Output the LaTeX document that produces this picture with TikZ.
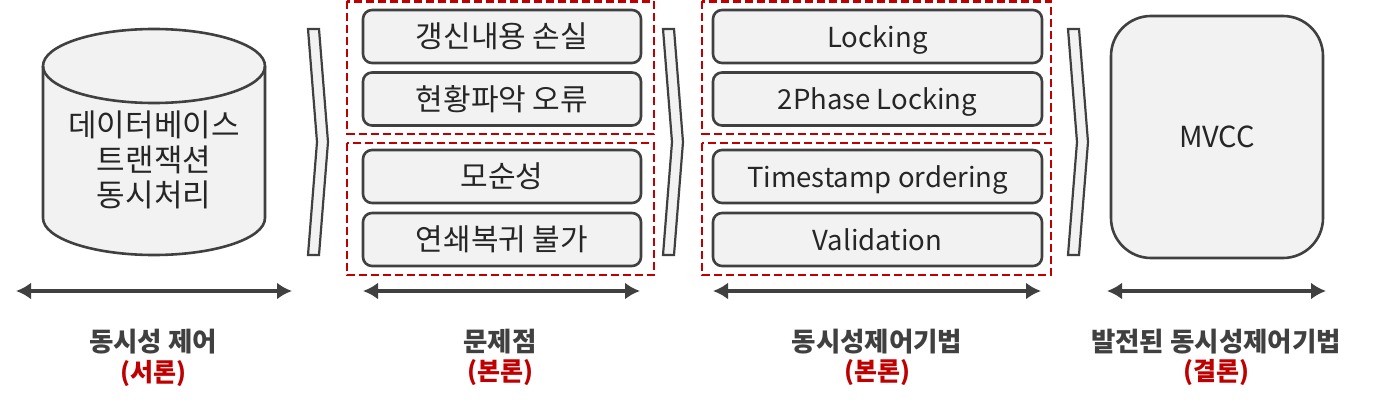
\documentclass[tikz,border=0pt]{standalone}
\usepackage{fontspec}
\setmainfont{Noto Sans CJK KR}
\usetikzlibrary{arrows.meta}
\definecolor{dk}{HTML}{404040}
\definecolor{fl}{HTML}{F2F2F2}
\definecolor{rd}{HTML}{C00000}
\tikzset{
  rbox/.style={draw=dk, fill=fl, line width=2.6pt, rounded corners=9pt, inner sep=0pt, font=\fontsize{30}{34}\selectfont, text=black!85},
  lat/.style={font=\fontsize{27.5}{32}\selectfont, text height=24pt, text depth=2pt},
  grp/.style={draw=rd, line width=2.6pt, dash pattern=on 8pt off 4pt},
  chev/.style={draw=dk, fill=fl, line width=2.2pt, line join=miter},
  span/.style={draw=dk, line width=4pt, {Latex[length=15pt,width=17pt]}-{Latex[length=15pt,width=17pt]}},
  ttl/.style={font=\fontsize{26.5}{30}\selectfont\bfseries, text=dk},
  sub/.style={font=\fontsize{25}{30}\selectfont\bfseries, text=rd},
}
\begin{document}
\begin{tikzpicture}[x=1pt,y=-1pt]
\useasboundingbox (0,0) rectangle (1378,401);
% cylinder
\draw[draw=dk, fill=fl, line width=2.6pt] (43,66) -- (43,218) arc[start angle=180, end angle=0, x radius=111, y radius=37] -- (265,66) arc[start angle=0, end angle=-180, x radius=111, y radius=37] -- cycle;
\draw[draw=dk, line width=2.6pt] (43,66) arc[start angle=180, end angle=0, x radius=111, y radius=37];
\node[font=\fontsize{31}{35}\selectfont, text=black!85, align=center] (db) at (154,160) {데이터베이스\\트랜잭션\\동시처리};
% chevrons
\draw[chev] (308,29) -- (319,29) -- (328,142) -- (319,255) -- (308,255) -- (317,142) -- cycle;
\draw[chev] (663,29) -- (674,29) -- (683,142) -- (674,255) -- (663,255) -- (672,142) -- cycle;
\draw[chev] (1068,29) -- (1079,29) -- (1088,142) -- (1079,255) -- (1068,255) -- (1077,142) -- cycle;
% group 2
\draw[grp] (347,1.5) rectangle (654,134);
\draw[grp] (347,143) rectangle (654,275);
\node[rbox, minimum width=278pt, minimum height=53pt] (p1) at (502,36.5) {갱신내용 손실};
\node[rbox, minimum width=278pt, minimum height=53pt] (p2) at (502,99) {현황파악 오류};
\node[rbox, minimum width=278pt, minimum height=53pt] (p3) at (502,176.5) {모순성};
\node[rbox, minimum width=278pt, minimum height=53pt] (p4) at (502,239.5) {연쇄복귀 불가};
% group 3
\draw[grp] (702,1.5) rectangle (1051,134);
\draw[grp] (702,143) rectangle (1051,275);
\node[rbox, lat, minimum width=329pt, minimum height=53pt] (m1) at (877.5,36.5) {Locking};
\node[rbox, lat, minimum width=329pt, minimum height=53pt] (m2) at (877.5,99) {2Phase Locking};
\node[rbox, lat, minimum width=329pt, minimum height=53pt] (m3) at (877.5,176.5) {Timestamp ordering};
\node[rbox, lat, minimum width=329pt, minimum height=53pt] (m4) at (877.5,239.5) {Validation};
% MVCC
\node[rbox, font=\fontsize{29}{34}\selectfont, text height=23pt, text depth=2pt, rounded corners=40pt, minimum width=212pt, minimum height=242pt] (mv) at (1217,137) {MVCC};
% spans
\coordinate (a1l) at (16,291); \coordinate (a1r) at (292,291);
\coordinate (a2l) at (363,291); \coordinate (a2r) at (640,291);
\coordinate (a3l) at (713,291); \coordinate (a3r) at (1041,291);
\coordinate (a4l) at (1107,291); \coordinate (a4r) at (1326,291);
\draw[span] (a1l) -- (a1r);
\draw[span] (a2l) -- (a2r);
\draw[span] (a3l) -- (a3r);
\draw[span] (a4l) -- (a4r);
% labels
\node[ttl] (t1) at (153,342) {동시성 제어};
\node[sub] (s1) at (153,373) {(서론)};
\node[ttl] (t2) at (500,342) {문제점};
\node[sub] (s2) at (500,373) {(본론)};
\node[ttl] (t3) at (877,342) {동시성제어기법};
\node[sub] (s3) at (877,373) {(본론)};
\node[ttl] (t4) at (1216,342) {발전된 동시성제어기법};
\node[sub] (s4) at (1216,373) {(결론)};
\end{tikzpicture}
\end{document}
